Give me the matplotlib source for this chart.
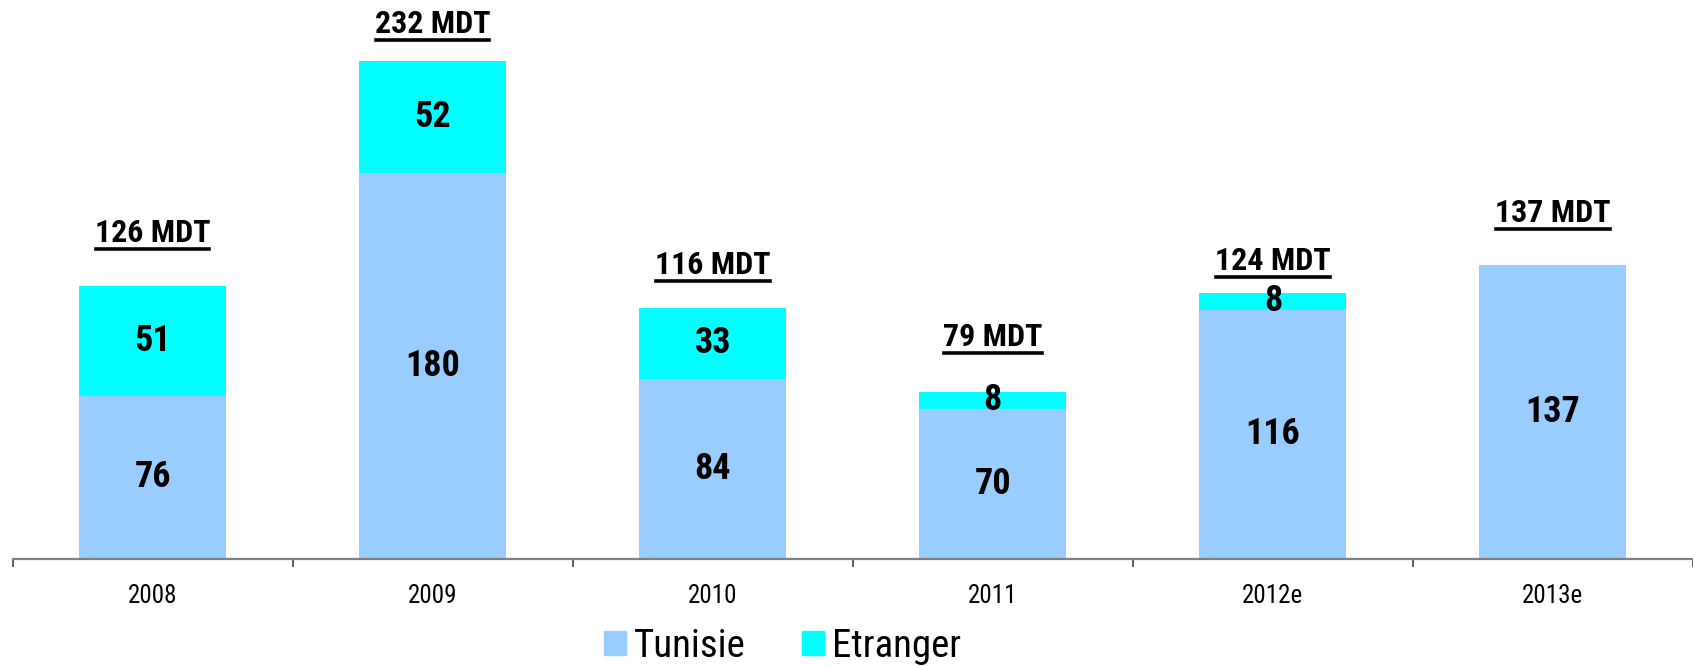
import matplotlib
matplotlib.use("Agg")
import matplotlib.pyplot as plt
from matplotlib.lines import Line2D
from matplotlib.patches import Patch
import numpy as np

plt.rcParams['font.family'] = ['Roboto Condensed', 'Liberation Sans', 'DejaVu Sans']

# ── data ─────────────────────────────────────────────────────────────────────
years    = ["2008", "2009", "2010", "2011", "2012e", "2013e"]
tunisie  = [76, 180, 84, 70, 116, 137]
etranger = [51, 52, 33, 8, 8, 0]
totals   = [126, 232, 116, 79, 124, 137]

C_TUN = "#99CCFF"
C_ETR = "#00FFFF"

# ── plot ─────────────────────────────────────────────────────────────────────
fig = plt.figure(figsize=(16.93, 6.66), dpi=100)
ax = fig.add_axes([0.0074, 0.1607, 0.9926, 0.8393])

x = np.arange(len(years))
w = 0.525
ax.bar(x, tunisie, w, color=C_TUN, label="Tunisie", zorder=2)
ax.bar(x, etranger, w, bottom=tunisie, color=C_ETR, label="Etranger", zorder=2)

for i in range(len(years)):
    ax.text(x[i], tunisie[i] / 2, str(tunisie[i]), ha="center", va="center",
            fontsize=26, fontweight="bold", zorder=3)
    if etranger[i]:
        ax.text(x[i], tunisie[i] + etranger[i] / 2, str(etranger[i]),
                ha="center", va="center", fontsize=26, fontweight="bold", zorder=3)

# total labels above each bar (underlined)
total_pad = [25, 17, 20, 25.5, 15, 24]
tot_txt = []
for i in range(len(years)):
    top = tunisie[i] + etranger[i]
    t = ax.text(x[i], top + total_pad[i], f"{totals[i]} MDT", ha="center",
                va="center", fontsize=23, fontweight="bold")
    tot_txt.append(t)

ax.set_xlim(-0.5, len(years) - 0.5)
ax.set_ylim(0, 260.4)
ax.set_yticks([])
for s in ("left", "right", "top"):
    ax.spines[s].set_visible(False)
ax.spines["bottom"].set_color("#808080")
ax.spines["bottom"].set_linewidth(1.6)
ax.spines["bottom"].set_zorder(4)

ax.set_xticks(x)
ax.set_xticklabels(years, fontsize=18)
ax.tick_params(axis="x", which="major", length=0, pad=18)
ax.set_xticks(np.arange(-0.5, len(years), 1.0), minor=True)
ax.tick_params(axis="x", which="minor", length=6, width=1.4, color="#606060",
               direction="out")

handles = [Patch(color=C_TUN), Patch(color=C_ETR)]
ax.legend(handles, ["Tunisie", "Etranger"], loc="center",
          bbox_to_anchor=(0.462, 0.03), bbox_transform=fig.transFigure,
          ncol=2, frameon=False, fontsize=28, handlelength=0.57,
          handleheight=0.57, handletextpad=0.2, columnspacing=1.45)

# underline the totals
fig.canvas.draw()
r = fig.canvas.get_renderer()
for t in tot_txt:
    bb = t.get_window_extent(renderer=r)
    yl = bb.y0 - 1
    fig.add_artist(Line2D([bb.x0 + 1, bb.x1 - 1], [yl, yl], transform=None,
                          color="black", linewidth=2.6))

fig.savefig("out.png", dpi=100)
